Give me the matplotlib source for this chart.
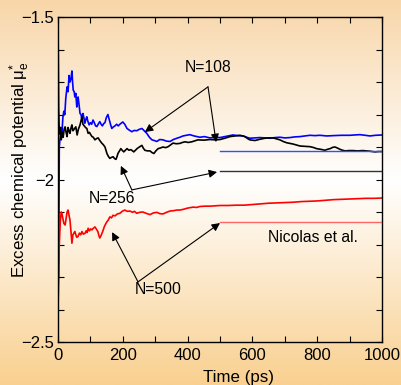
import numpy as np
import matplotlib
matplotlib.use("Agg")
import matplotlib.pyplot as plt
from matplotlib.colors import LinearSegmentedColormap

plt.rcParams['font.family'] = ['Liberation Sans', 'DejaVu Sans']
plt.rcParams['mathtext.fontset'] = 'custom'
plt.rcParams['mathtext.rm'] = 'Liberation Sans'
plt.rcParams['mathtext.it'] = 'Liberation Sans:italic'

# running averages of the excess chemical potential, (time ps, mu*)
run_108 = [
    (0, -2.40), (2, -2.30), (4, -1.90), (6, -1.878), (9, -1.84), (12, -1.86), (15, -1.81),
    (18, -1.79), (21, -1.80), (24, -1.75), (28, -1.715), (31, -1.73), (34, -1.68),
    (37, -1.70), (40, -1.69), (43, -1.666), (45, -1.70), (47, -1.725), (50, -1.73),
    (52, -1.746), (55, -1.735), (58, -1.777), (60, -1.76), (62, -1.746), (65, -1.77),
    (68, -1.797), (71, -1.80), (74, -1.817), (77, -1.797), (80, -1.81), (83, -1.827),
    (86, -1.815), (89, -1.807), (92, -1.82), (96, -1.832), (100, -1.825), (104, -1.83),
    (108, -1.817), (112, -1.825), (116, -1.835), (120, -1.837), (124, -1.83), (129, -1.822),
    (133, -1.83), (137, -1.835), (141, -1.828), (145, -1.825), (149, -1.81), (154, -1.80),
    (158, -1.815), (162, -1.83), (166, -1.843), (171, -1.838), (176, -1.835), (181, -1.83),
    (186, -1.835), (191, -1.830), (196, -1.826), (200, -1.823), (206, -1.83), (213, -1.843),
    (220, -1.848), (228, -1.853), (235, -1.849), (243, -1.850), (250, -1.846), (259, -1.843),
    (266, -1.85), (274, -1.858), (282, -1.87), (290, -1.878), (297, -1.88), (305, -1.883),
    (314, -1.877), (324, -1.878), (335, -1.882), (346, -1.883), (356, -1.877), (367, -1.873),
    (376, -1.870), (386, -1.866), (396, -1.864), (407, -1.862), (420, -1.866), (438, -1.870),
    (452, -1.868), (469, -1.872), (485, -1.870), (500, -1.871), (520, -1.867), (540, -1.863),
    (555, -1.865), (571, -1.866), (582, -1.870), (592, -1.873), (608, -1.872), (623, -1.871),
    (640, -1.872), (654, -1.873), (670, -1.871), (685, -1.870), (700, -1.872), (716, -1.871),
    (730, -1.869), (747, -1.868), (762, -1.866), (778, -1.864), (793, -1.865), (808, -1.864),
    (830, -1.866), (849, -1.865), (875, -1.864), (901, -1.864), (915, -1.863), (932, -1.862),
    (948, -1.864), (963, -1.866), (980, -1.864), (1000, -1.863),
]

run_256 = [
    (0, -1.50), (2, -1.78), (4, -1.86), (7, -1.84), (10, -1.878), (13, -1.855), (16, -1.87),
    (19, -1.845), (22, -1.838), (25, -1.855), (28, -1.868), (31, -1.840), (34, -1.850),
    (37, -1.858), (40, -1.842), (43, -1.832), (46, -1.850), (50, -1.845), (55, -1.838),
    (59, -1.863), (63, -1.845), (68, -1.832), (71, -1.82), (74, -1.807), (77, -1.830),
    (81, -1.835), (85, -1.84), (89, -1.843), (93, -1.858), (97, -1.855), (101, -1.862),
    (105, -1.868), (109, -1.87), (114, -1.878), (119, -1.874), (124, -1.872), (129, -1.88),
    (135, -1.888), (140, -1.893), (145, -1.900), (148, -1.91), (151, -1.920), (155, -1.928),
    (160, -1.935), (165, -1.932), (170, -1.930), (175, -1.936), (179, -1.938), (182, -1.93),
    (185, -1.920), (190, -1.912), (194, -1.905), (198, -1.91), (203, -1.915), (208, -1.91),
    (213, -1.905), (219, -1.91), (225, -1.908), (230, -1.912), (234, -1.915), (239, -1.91),
    (244, -1.905), (251, -1.90), (259, -1.895), (263, -1.903), (268, -1.910), (276, -1.912),
    (284, -1.912), (290, -1.917), (296, -1.920), (302, -1.912), (309, -1.905), (316, -1.903),
    (324, -1.900), (332, -1.902), (340, -1.899), (348, -1.893), (355, -1.888), (365, -1.890),
    (376, -1.889), (384, -1.886), (392, -1.884), (402, -1.886), (413, -1.884), (422, -1.881),
    (432, -1.878), (450, -1.879), (469, -1.877), (485, -1.878), (500, -1.877), (515, -1.873),
    (531, -1.868), (547, -1.866), (562, -1.864), (570, -1.866), (577, -1.868), (585, -1.874),
    (592, -1.878), (600, -1.879), (608, -1.880), (624, -1.876), (639, -1.873), (650, -1.872),
    (664, -1.872), (675, -1.875), (685, -1.878), (695, -1.883), (706, -1.887), (716, -1.889),
    (726, -1.891), (737, -1.894), (747, -1.897), (762, -1.898), (778, -1.899), (790, -1.902),
    (798, -1.905), (810, -1.907), (824, -1.910), (832, -1.907), (840, -1.905), (848, -1.901),
    (855, -1.900), (862, -1.903), (870, -1.907), (878, -1.910), (886, -1.912), (898, -1.911),
    (910, -1.911), (925, -1.912), (941, -1.911), (952, -1.912), (963, -1.913), (970, -1.914),
    (978, -1.915), (990, -1.914), (1000, -1.914),
]

run_500 = [
    (0, -1.50), (1, -2.30), (4, -2.20), (7, -2.13), (10, -2.10), (12, -2.104), (15, -2.12),
    (18, -2.135), (22, -2.140), (25, -2.12), (28, -2.10), (31, -2.094), (34, -2.11),
    (37, -2.125), (40, -2.16), (43, -2.196), (46, -2.17), (49, -2.165), (52, -2.160),
    (55, -2.17), (58, -2.178), (62, -2.175), (66, -2.165), (70, -2.17), (74, -2.160),
    (78, -2.168), (83, -2.166), (87, -2.158), (90, -2.163), (93, -2.150), (97, -2.158),
    (101, -2.152), (105, -2.155), (109, -2.150), (114, -2.146), (118, -2.152), (123, -2.160),
    (126, -2.172), (129, -2.180), (133, -2.172), (138, -2.160), (143, -2.145), (148, -2.135),
    (151, -2.13), (155, -2.125), (160, -2.115), (165, -2.118), (170, -2.110), (176, -2.112),
    (183, -2.106), (191, -2.104), (198, -2.098), (206, -2.094), (214, -2.098), (222, -2.097),
    (230, -2.101), (236, -2.098), (243, -2.104), (252, -2.101), (262, -2.100), (272, -2.104),
    (284, -2.108), (294, -2.103), (305, -2.101), (314, -2.105), (324, -2.106), (335, -2.101),
    (346, -2.097), (356, -2.096), (367, -2.094), (376, -2.094), (386, -2.092), (400, -2.088),
    (417, -2.085), (428, -2.086), (438, -2.083), (455, -2.082), (470, -2.082), (485, -2.081),
    (500, -2.080), (525, -2.080), (550, -2.079), (575, -2.079), (600, -2.077), (625, -2.075),
    (650, -2.073), (675, -2.072), (700, -2.071), (725, -2.070), (750, -2.068), (775, -2.067),
    (800, -2.066), (825, -2.064), (850, -2.062), (875, -2.061), (900, -2.060), (925, -2.059),
    (950, -2.058), (975, -2.058), (1000, -2.057),
]

# reference values (Nicolas et al.)
ref_t = [500, 1000]
ref_108 = -1.912
ref_256 = -1.973
ref_500 = -2.130

fig = plt.figure(figsize=(4.01, 3.85), dpi=100)

# peach-white-peach backdrop
bg = fig.add_axes([0, 0, 1, 1], zorder=-1)
cmap = LinearSegmentedColormap.from_list(
    "bg", [(0.0, "#f8d6a9"), (0.47, "#ffffff"), (1.0, "#f9d090")])
bg.imshow(np.linspace(0, 1, 256).reshape(-1, 1), aspect="auto", cmap=cmap,
          extent=[0, 1, 0, 1])
bg.axis("off")

ax = fig.add_axes([58 / 401, 1 - 342 / 385, 324 / 401, 325 / 385])
ax.patch.set_alpha(0)

for run, col in [(run_108, "#0000ff"), (run_256, "black"), (run_500, "#ff0000")]:
    t, mu = zip(*run)
    ax.plot(t, mu, color=col, lw=1.2)
ax.plot(ref_t, [ref_108] * 2, color="#3050ff", lw=1.0)
ax.plot(ref_t, [ref_256] * 2, color="#333333", lw=1.0)
ax.plot(ref_t, [ref_500] * 2, color="#ff6666", lw=1.0)

ax.set_xlim(0, 1000)
ax.set_ylim(-2.5, -1.5)
ax.set_xticks(np.arange(0, 1001, 200))
ax.set_xticks(np.arange(0, 1001, 100), minor=True)
ax.set_yticks([-2.5, -2, -1.5])
ax.set_yticklabels(["\u22122.5", "\u22122", "\u22121.5"])
ax.set_yticks(np.arange(-2.5, -1.45, 0.1), minor=True)
ax.tick_params(which="both", direction="in", top=True, right=True,
               length=4, width=0.8, labelsize=12)
ax.tick_params(axis="x", pad=4)
ax.tick_params(axis="y", pad=3)
for s in ax.spines.values():
    s.set_linewidth(1.0)

ax.set_xlabel("Time (ps)", fontsize=12.2)
ax.xaxis.set_label_coords(0.557, -0.085)
ax.set_ylabel("Excess chemical potential \u03bc$_{\\mathrm{e}}^{*}$", fontsize=12.2)
ax.yaxis.set_label_coords(-0.08, 0.53)

arrow = dict(arrowstyle="-|>", color="black", lw=0.8, mutation_scale=12,
             shrinkA=0, shrinkB=0)
ax.text(463, -1.654, "N=108", fontsize=11.3, ha="center", va="center")
ax.annotate("", xy=(268, -1.854), xytext=(463, -1.715), arrowprops=arrow)
ax.annotate("", xy=(488, -1.885), xytext=(463, -1.715), arrowprops=arrow)

ax.text(167, -2.057, "N=256", fontsize=11.3, ha="center", va="center")
ax.annotate("", xy=(194, -1.958), xytext=(228, -2.032), arrowprops=arrow)
ax.annotate("", xy=(491, -1.977), xytext=(228, -2.032), arrowprops=arrow)

ax.text(309, -2.34, "N=500", fontsize=11.3, ha="center", va="center")
ax.annotate("", xy=(167, -2.162), xytext=(247, -2.315), arrowprops=arrow)
ax.annotate("", xy=(500, -2.134), xytext=(247, -2.315), arrowprops=arrow)

ax.text(648, -2.177, "Nicolas et al.", fontsize=11.3, ha="left", va="center")

fig.savefig("out.png", dpi=100)
